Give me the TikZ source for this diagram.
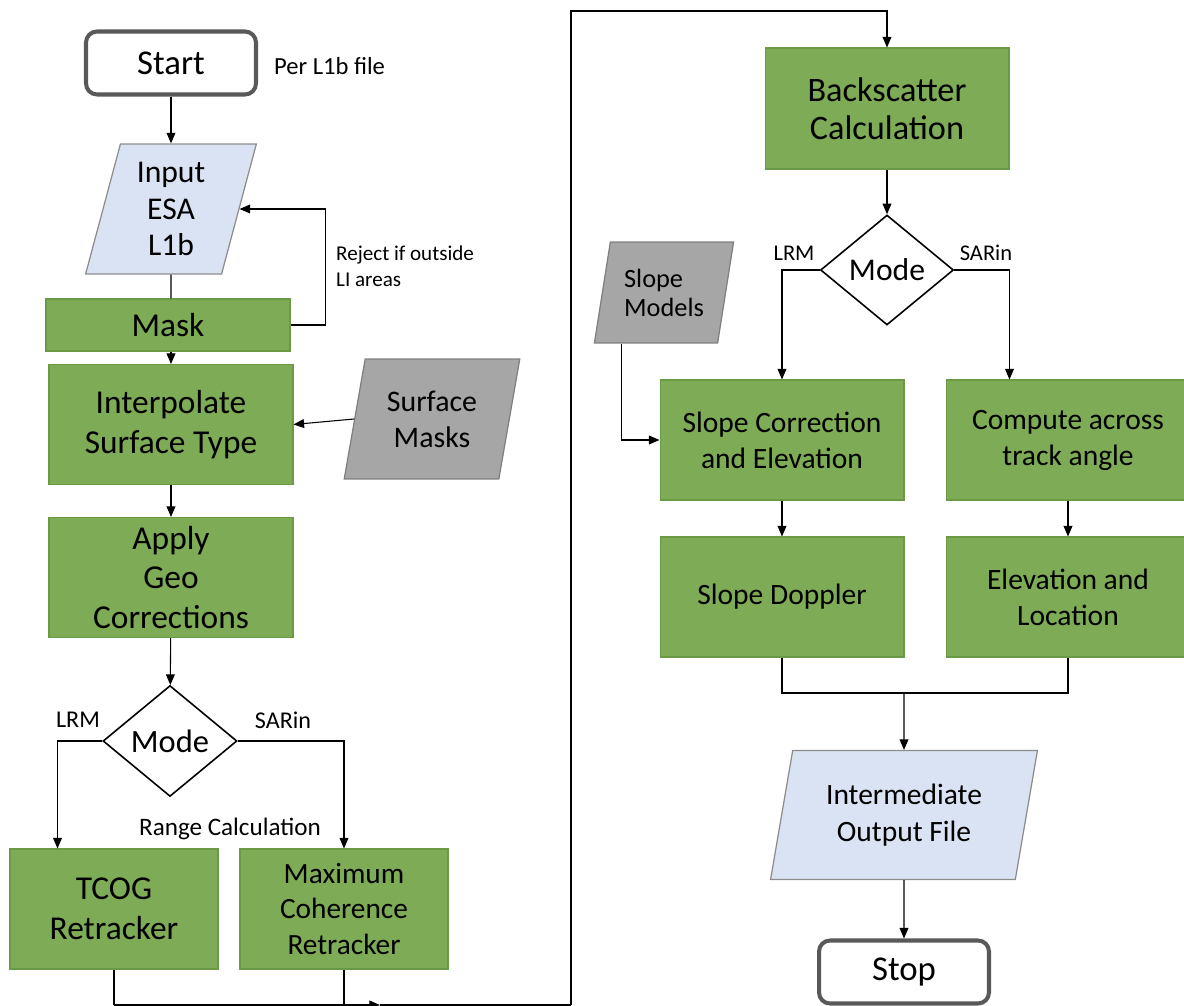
\documentclass[tikz,border=0pt]{standalone}
\usepackage{fontspec}
\setmainfont{Carlito}
\usetikzlibrary{positioning,arrows.meta,calc,shapes.geometric}

\definecolor{procgreen}{HTML}{7EAB55}
\definecolor{procedge}{HTML}{6B9A45}
\definecolor{iofill}{HTML}{DAE3F3}
\definecolor{ioedge}{HTML}{8C8C8C}
\definecolor{extfill}{HTML}{A6A6A6}
\definecolor{extedge}{HTML}{7F7F7F}
\definecolor{termedge}{HTML}{595959}

\tikzset{
  proc/.style={rectangle,draw=procedge,fill=procgreen,line width=0.6pt,align=center,inner sep=0pt,
    minimum width=4.88cm,minimum height=2.4cm,font=\fontsize{19}{22.5}\selectfont},
  procR/.style={proc,font=\fontsize{16.8}{20.5}\selectfont},
  terminal/.style={rectangle,rounded corners=0.22cm,draw=termedge,fill=white,line width=2.3pt,
    minimum width=3.4cm,minimum height=1.26cm,font=\fontsize{19.8}{22}\selectfont},
  dataio/.style={trapezium,trapezium left angle=76,trapezium right angle=104,trapezium stretches=true,
    draw=ioedge,fill=iofill,line width=0.7pt,align=center,inner sep=0pt},
  extdata/.style={dataio,draw=extedge,fill=extfill},
  decision/.style={diamond,draw=black,line width=0.9pt,fill=white,inner sep=0pt,
    minimum width=2.68cm,minimum height=2.22cm,font=\fontsize{18.5}{22}\selectfont},
  lbl/.style={font=\fontsize{13.7}{16}\selectfont},
  flow/.style={line width=0.6pt,-{Triangle[length=6pt,width=5pt]}},
  link/.style={line width=0.6pt}
}

\begin{document}
\begin{tikzpicture}[x=0.02cm,y=-0.02cm]
  \useasboundingbox (0,0) rectangle (1184,1006);
  % left column
  \node[terminal] (start) at (171,63) {Start};
  \node[lbl,anchor=west,font=\fontsize{14}{16}\selectfont] (perfile) at (268,66) {Per L1b file};
  \node[dataio,minimum width=3.42cm,minimum height=2.6cm,font=\fontsize{18}{21}\selectfont] (input) at (171,209) {Input\\ESA\\L1b};
  \node[proc,minimum height=1.04cm] (mask) at (168,325) {Mask};
  \node[lbl,anchor=west,align=left,font=\fontsize{12}{15}\selectfont] (reject) at (330,266) {Reject if outside\\LI areas};
  \node[proc] (interp) at (171,424.5) {Interpolate\\Surface Type};
  \node[extdata,minimum width=3.52cm,minimum height=2.4cm,font=\fontsize{17}{20.5}\selectfont] (surfmask) at (432,419) {Surface\\Masks};
  \node[proc] (geocorr) at (171,577.5) {Apply\\Geo\\Corrections};
  \node[decision] (modeL) at (170,741) {Mode};
  \node[lbl] (lrmL) at (78,720) {LRM};
  \node[lbl] (sarinL) at (283,720) {SARin};
  \node[lbl,font=\fontsize{14.3}{16}\selectfont] (rangecalc) at (230,829) {Range Calculation};
  \node[proc,minimum width=4.16cm] (tcog) at (114,909) {TCOG\\Retracker};
  \node[proc,minimum width=4.16cm,font=\fontsize{16.7}{20}\selectfont] (maxcoh) at (344,909) {Maximum\\Coherence\\Retracker};
  % right column
  \node[proc,minimum height=2.42cm,font=\fontsize{19.5}{21.5}\selectfont] (backsc) at (887,108.5) {Backscatter\\Calculation};
  \node[decision,minimum width=2.66cm,minimum height=2.2cm,font=\fontsize{18}{22}\selectfont] (modeR) at (887,270) {Mode};
  \node[lbl,font=\fontsize{12.8}{15}\selectfont] (lrmR) at (794,253) {LRM};
  \node[lbl,font=\fontsize{12.8}{15}\selectfont] (sarinR) at (986,253) {SARin};
  \node[extdata,minimum width=2.8cm,minimum height=2.02cm,align=left,font=\fontsize{15}{16.5}\selectfont] (slopemod) at (664,292.5) {Slope\\Models};
  \node[procR] (slopecorr) at (782,440) {Slope Correction\\and Elevation};
  \node[procR] (compute) at (1068,440) {Compute across\\track angle};
  \node[procR] (slopedop) at (782,597) {Slope Doppler};
  \node[procR] (elevloc) at (1068,597) {Elevation and\\Location};
  \node[dataio,minimum width=5.34cm,minimum height=2.58cm,font=\fontsize{16.8}{21}\selectfont] (interm) at (904,815) {Intermediate\\Output File};
  \node[terminal] (stop) at (904,972) {Stop};
  % connectors, left
  \draw[flow] (start) -- (start |- input.north);
  \draw[link] (input) -- (input |- mask.north);
  \draw[flow] (mask.east) -- ++(35,0) |- (input.east);
  \draw[flow] (interp.north |- mask.south) -- (interp.north);
  \draw[flow] (surfmask.west) -- (interp.east);
  \draw[flow] (interp) -- (geocorr);
  \draw[flow] (geocorr) -- (modeL);
  \draw[flow] (modeL.west) -| ($(tcog.north west)+(48,0)$);
  \draw[flow] (modeL.east) -| (maxcoh.north);
  \coordinate (mergeL) at (114,1005);
  \coordinate (midtip) at (380,1005);
  \coordinate (loopB) at (571,1005);
  \coordinate (loopT) at (571,11);
  \draw[link] (tcog.south) -- (mergeL);
  \draw[link] (maxcoh.south) -- (maxcoh.south |- mergeL);
  \draw[flow] (mergeL) -- (midtip);
  \draw[link] (midtip) -- (loopB);
  \draw[flow] (loopB) -- (loopT) -| (backsc.north);
  % connectors, right
  \draw[flow] (backsc) -- (modeR);
  \draw[flow] (modeR.west) -| (slopecorr.north);
  \draw[flow] (modeR.east) -| (backsc.east |- compute.north);
  \draw[flow] ($(slopemod.bottom left corner)+(28,0)$) |- (slopecorr.west);
  \draw[flow] (slopecorr) -- (slopedop);
  \draw[flow] (compute) -- (elevloc);
  \coordinate (mergeR) at (904,693);
  \draw[link] (slopedop.south) |- (mergeR) -| (elevloc.south);
  \draw[flow] (mergeR) -- (interm.north);
  \draw[flow] (interm) -- (stop);
\end{tikzpicture}
\end{document}
